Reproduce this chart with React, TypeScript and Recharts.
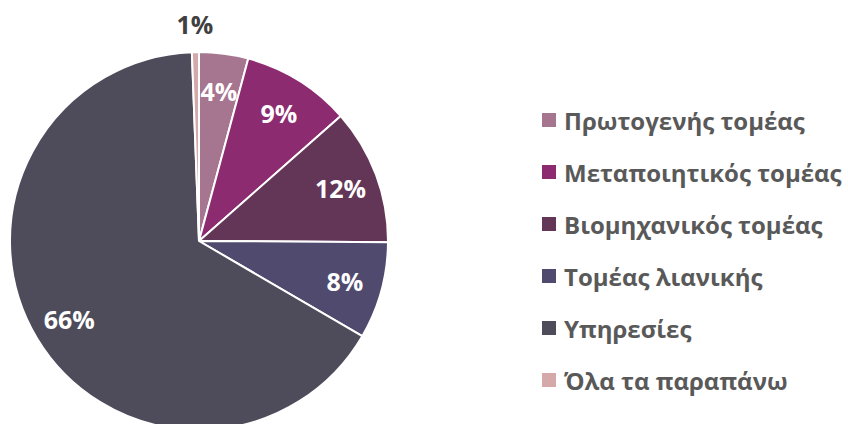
import { PieChart, Pie, Cell, Legend } from "recharts";

const SECTORS = [
  "Πρωτογενής τομέας",
  "Μεταποιητικός τομέας",
  "Βιομηχανικός τομέας",
  "Τομέας λιανικής",
  "Υπηρεσίες",
  "Όλα τα παραπάνω",
];
const SHARES = [4.2, 9.3, 11.6, 8.3, 66.0, 0.6];
const COLORS = ["#A6758F", "#8C2B70", "#633657", "#4F4A6E", "#4E4C5A", "#D5A9AA"];

const data = SECTORS.map((name, i) => ({ name, value: SHARES[i] }));

const FONT = "'Open Sans', sans-serif";
const RADIAN = Math.PI / 180;

function renderLabel(props: any) {
  const { cx, cy, midAngle, outerRadius, percent } = props;
  const small = percent < 0.02;
  const r = small ? outerRadius + 28 : outerRadius * 0.8;
  const x = cx + r * Math.cos(-midAngle * RADIAN);
  const y = cy + r * Math.sin(-midAngle * RADIAN);
  return (
    <text
      x={x}
      y={y}
      fill={small ? "#404040" : "#ffffff"}
      textAnchor="middle"
      dominantBaseline="central"
      fontFamily={FONT}
      fontWeight={700}
      fontSize={25}
    >
      {`${Math.round(percent * 100)}%`}
    </text>
  );
}

function renderLegend() {
  return (
    <div style={{ fontFamily: FONT }}>
      {data.map((d, i) => (
        <div key={d.name} style={{ display: "flex", alignItems: "center", height: 52 }}>
          <span style={{ width: 14, height: 14, background: COLORS[i], marginRight: 8, flexShrink: 0 }} />
          <span style={{ fontSize: 24, fontWeight: 700, color: "#595959", whiteSpace: "nowrap" }}>
            {d.name}
          </span>
        </div>
      ))}
    </div>
  );
}

export default function App() {
  return (
    <div style={{ width: 848, height: 424, background: "#fff" }}>
      <style>{"body{margin:0}"}</style>
      <PieChart width={848} height={424} margin={{ top: 0, right: 0, bottom: 0, left: 0 }}>
        <Pie
          data={data}
          dataKey="value"
          nameKey="name"
          cx={199}
          cy={241}
          outerRadius={189}
          startAngle={90}
          endAngle={-270}
          stroke="#ffffff"
          strokeWidth={2}
          label={renderLabel}
          labelLine={false}
          isAnimationActive={false}
        >
          {data.map((d, i) => (
            <Cell key={d.name} fill={COLORS[i]} />
          ))}
        </Pie>
        <Legend
          content={renderLegend}
          wrapperStyle={{ left: 542, top: 94, width: 306 }}
        />
      </PieChart>
    </div>
  );
}
